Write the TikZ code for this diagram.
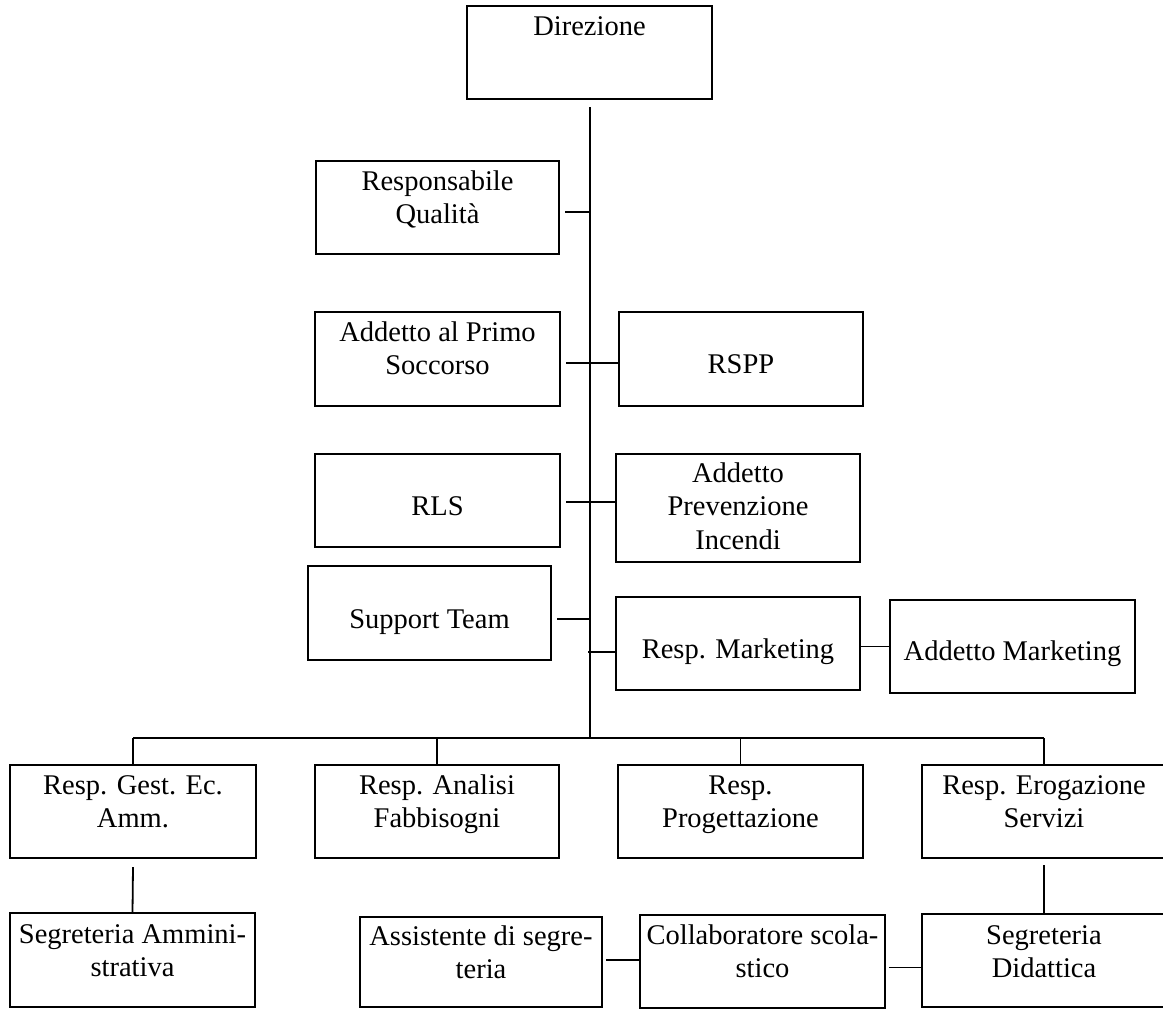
\documentclass[tikz,border=0pt]{standalone}
\usepackage{fontspec}
\setmainfont{Liberation Serif}
\newcommand{\orgbox}[4]{\parbox[c][#2pt][t]{#1pt}{\centering\rule{0pt}{#3pt}#4}}
\begin{document}
\begin{tikzpicture}[x=1pt,y=-1pt,
  box/.style={draw=black, line width=1.1pt, inner sep=0pt, outer sep=0pt, anchor=north west,
    font=\fontsize{28.5}{33.5}\selectfont},
  conn/.style={draw=black, line width=1.8pt},
  trunk/.style={draw=black, line width=1.9pt}]
\useasboundingbox (0,0) rectangle (1163,1010);
\clip (0,0) rectangle (1163,1010);
% top
\node[box] (dir) at (467,6) {\orgbox{245}{93}{29}{Direzione}};
\node[box] (rq) at (316,161) {\orgbox{243}{93}{29}{Responsabile\\Qualità}};
\node[box] (aps) at (315,312) {\orgbox{245}{94}{29}{Addetto al Primo\\Soccorso}};
\node[box] (rspp) at (619,312) {\orgbox{244}{94}{61}{RSPP}};
\node[box] (rls) at (315,454) {\orgbox{245}{93}{61}{RLS}};
\node[box] (api) at (616,454) {\orgbox{244}{108}{28}{Addetto\\Prevenzione\\Incendi}};
\node[box] (st) at (308,566) {\orgbox{243}{94}{62}{Support Team}};
\node[box] (rm) at (616,597) {\orgbox{244}{93}{61}{Resp. Marketing}};
\node[box] (am) at (890,600) {\orgbox{245}{93}{60}{Addetto Marketing}};
% row of heads
\node[box] (rg) at (10,765) {\orgbox{246}{93}{29}{Resp. Gest. Ec.\\Amm.}};
\node[box] (ra) at (315,765) {\orgbox{244}{93}{29}{Resp. Analisi\\Fabbisogni}};
\node[box] (rp) at (618,765) {\orgbox{245}{93}{29}{Resp.\\Progettazione}};
\node[box] (re) at (922,765) {\orgbox{244}{93}{29}{Resp. Erogazione\\Servizi}};
% bottom row
\node[box] (sa) at (10,913) {\orgbox{245}{94}{30}{Segreteria Ammini-\\strativa}};
\node[box] (as) at (360,917) {\orgbox{242}{90}{28}{Assistente di segre-\\teria}};
\node[box] (cs) at (640,915) {\orgbox{245}{93}{29}{Collaboratore scola-\\stico}};
\node[box] (sd) at (922,914) {\orgbox{244}{93}{30}{Segreteria\\Didattica}};
% trunk
\coordinate (ttop) at (590,107);
\coordinate (tbar) at (590,738);
\draw[trunk] (ttop) -- (tbar);
% side connectors
\coordinate (c1) at ([xshift=6pt,yshift=-4.5pt]rq.east);
\draw[conn] (c1) -- (c1 -| ttop);
\coordinate (c2) at ([xshift=6pt,yshift=-4pt]aps.east);
\draw[conn] (c2) -- (c2 -| rspp.west);
\coordinate (c3) at ([xshift=6pt,yshift=-1.5pt]rls.east);
\draw[conn] (c3) -- (c3 -| api.west);
\coordinate (c4) at ([xshift=6pt,yshift=-6pt]st.east);
\draw[conn] (c4) -- (c4 -| ttop);
\coordinate (c5) at ([yshift=-8.5pt]rm.west);
\draw[conn] ([xshift=-2pt]c5 -| ttop) -- (c5);
\draw[conn] (rm.east |- am.west) -- (am.west);
% bar and drops
\draw[conn] (rg.north |- tbar) -- (re.north |- tbar);
\draw[conn] (rg.north |- tbar) -- (rg.north);
\draw[conn] (ra.north |- tbar) -- (ra.north);
\draw[conn] (rp.north |- tbar) -- (rp.north);
\draw[conn] (re.north |- tbar) -- (re.north);
% lower connectors
\draw[conn] ([yshift=-9pt]rg.south) -- (sa.north);
\draw[conn] ([yshift=-7pt]re.south) -- (sd.north);
\coordinate (c6) at ([xshift=4pt,yshift=2pt]as.east);
\draw[conn] (c6) -- (c6 -| cs.west);
\coordinate (c7) at ([xshift=4pt,yshift=-6pt]cs.east);
\draw[conn] (c7) -- (c7 -| sd.west);
\end{tikzpicture}
\end{document}
